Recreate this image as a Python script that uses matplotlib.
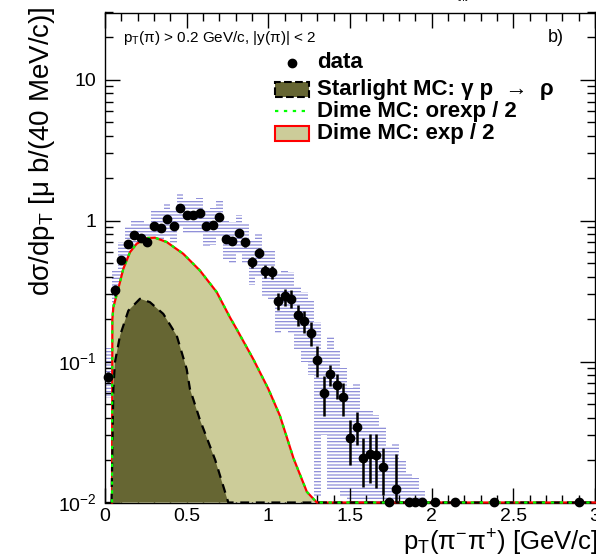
import numpy as np
import matplotlib
matplotlib.use('Agg')
import matplotlib.pyplot as plt
from matplotlib.patches import Rectangle
from matplotlib.lines import Line2D
from matplotlib.ticker import FixedLocator, MultipleLocator, NullFormatter, FixedFormatter

plt.rcParams['font.family'] = ['Liberation Sans', 'DejaVu Sans']
plt.rcParams['mathtext.fontset'] = 'custom'
plt.rcParams['mathtext.rm'] = 'Liberation Sans'
plt.rcParams['mathtext.it'] = 'Liberation Sans:italic'
plt.rcParams['mathtext.bf'] = 'Liberation Sans:bold'
plt.rcParams['hatch.linewidth'] = 0.9

# ---------------- data ----------------
bin_centers = [0.02, 0.06, 0.10, 0.14, 0.18, 0.22, 0.26, 0.30, 0.34, 0.38,
               0.42, 0.46, 0.50, 0.54, 0.58, 0.62, 0.66, 0.70, 0.74, 0.78,
               0.82, 0.86, 0.90, 0.94, 0.98, 1.02, 1.06, 1.10, 1.14, 1.18,
               1.22, 1.26, 1.30, 1.34, 1.38, 1.42, 1.46, 1.50, 1.54, 1.58,
               1.62, 1.66, 1.70, 1.74, 1.78, 1.82, 1.86, 1.90, 1.94]
data_vals = [0.078, 0.32, 0.53, 0.685, 0.79, 0.75, 0.71, 0.92, 0.89, 1.02,
             0.92, 1.23, 1.09, 1.10, 1.13, 0.91, 0.93, 1.06, 0.74, 0.72,
             0.82, 0.70, 0.51, 0.59, 0.44, 0.43, 0.27, 0.29, 0.28, 0.215,
             0.195, 0.16, 0.103, 0.060, 0.081, 0.068, 0.056, 0.0285, 0.0346, 0.0208,
             0.0222, 0.0217, 0.0178, 0.0, 0.0125, np.nan, 0.0, 0.0, 0.0]
stat_err = [0.006, 0.03, 0.03, 0.03, 0.03, 0.03, 0.03, 0.035, 0.035, 0.04,
            0.04, 0.05, 0.045, 0.045, 0.05, 0.045, 0.045, 0.05, 0.04, 0.045,
            0.05, 0.05, 0.045, 0.05, 0.045, 0.045, 0.037, 0.04, 0.04, 0.037,
            0.035, 0.032, 0.025, 0.019, 0.014, 0.014, 0.015, 0.010, 0.009, 0.008,
            0.0085, 0.009, 0.0065, 0.0, 0.0095, 0.0, 0.0, 0.0, 0.0]
sys_lo = [0.055, 0.20, 0.37, 0.50, 0.58, 0.55, 0.53, 0.68, 0.66, 0.76,
          0.68, 0.92, 0.80, 0.80, 0.82, 0.66, 0.67, 0.77, 0.53, 0.50,
          0.58, 0.50, 0.35, 0.40, 0.29, 0.28, 0.16, 0.17, 0.16, 0.12,
          0.10, 0.08, 0.011, 0.03, 0.012, 0.012, 0.011, 0.0101, 0.0101, 0.0101,
          0.0101, 0.0101, 0.0101, 0.0101, 0.0101, 0.0101, 0.0101, 0.0101, 0.0101]
sys_hi = [0.125, 0.45, 0.70, 0.90, 1.02, 1.00, 0.97, 1.20, 1.17, 1.33,
          1.20, 1.55, 1.42, 1.42, 1.45, 1.20, 1.22, 1.38, 1.00, 0.98,
          1.10, 0.96, 0.72, 0.82, 0.63, 0.63, 0.42, 0.44, 0.43, 0.34,
          0.31, 0.27, 0.19, 0.12, 0.15, 0.12, 0.09, 0.065, 0.07, 0.045,
          0.045, 0.042, 0.035, 0.025, 0.026, 0.02, 0.016, 0.015, 0.0125]
extra_pt = [2.02, 2.14, 2.38, 2.90]
extra_vals = [0.0, 0.0, 0.0, 0.0]

dime_pt = [0.043, 0.045, 0.051, 0.081, 0.112, 0.153, 0.194, 0.255, 0.306, 0.378,
           0.479, 0.581, 0.684, 0.765, 0.806, 0.908, 1.0, 1.071, 1.154, 1.236,
           1.297, 3.0]
dime_vals = [0.01, 0.20, 0.243, 0.328, 0.455, 0.598, 0.686, 0.753, 0.757, 0.705,
             0.582, 0.443, 0.311, 0.206, 0.170, 0.104, 0.064, 0.0413, 0.0206, 0.0119,
             0.01, 0.01]
star_pt = [0.04, 0.051, 0.061, 0.092, 0.143, 0.214, 0.275, 0.357, 0.439, 0.50,
           0.52, 0.58, 0.675, 0.755, 3.0]
star_vals = [0.01, 0.064, 0.099, 0.153, 0.23, 0.279, 0.264, 0.218, 0.153, 0.0885,
             0.064, 0.039, 0.02, 0.01, 0.01]

legend_labels = ['data', 'Starlight MC: \u03b3 p  \u2192  \u03c1',
                 'Dime MC: orexp / 2', 'Dime MC: exp / 2']
ytick_vals = [0.01, 0.1, 1, 10]
ytick_labels = ['$10^{-2}$', '$10^{-1}$', '1', '10']

YMIN, YMAX = 0.01, 30.0
XMIN, XMAX = 0.0, 3.0

# ---------------- figure ----------------
W, H = 596, 559
fig = plt.figure(figsize=(W / 100, H / 100), dpi=100)
ax = fig.add_axes([105 / W, 1 - 502.5 / H, 490 / W, 490 / H])
ax.set_yscale('log')
ax.set_xlim(XMIN, XMAX)
ax.set_ylim(YMIN, YMAX)

# systematic band (hatched)
bc = np.array(bin_centers)
lo = np.array(sys_lo)
hi = np.array(sys_hi)
ax.bar(bc, hi - lo, bottom=lo, width=0.04, align='center',
       facecolor='none', edgecolor='#8c8cd8', linewidth=0, hatch='-----', zorder=1)

# Dime exp / 2 (filled)
ax.fill_between(dime_pt, YMIN, dime_vals, facecolor='#cccc99', edgecolor='none', zorder=2)
ax.plot(dime_pt, dime_vals, color='#ff0000', lw=1.6, zorder=3, clip_on=False)

# Starlight (filled, dashed outline)
ax.fill_between(star_pt, YMIN, star_vals, facecolor='#666633', edgecolor='none', zorder=4)
ax.plot(star_pt, star_vals, color='black', lw=1.6, ls=(0, (4, 3)), zorder=5, clip_on=False)

# Dime orexp / 2 (green dotted)
ax.plot(dime_pt, dime_vals, color='#00ff00', lw=1.6, ls=(0, (1.5, 2.5)), zorder=6, clip_on=False)

# data points
dv = np.array(data_vals, dtype=float)
se = np.array(stat_err)
mask = ~np.isnan(dv)
ydraw = np.maximum(dv[mask], YMIN)
ylow = np.minimum(se[mask], ydraw - YMIN)
yerr = np.vstack([ylow, se[mask]])
ax.errorbar(bc[mask], ydraw, yerr=yerr, fmt='o', color='black', markersize=6,
            elinewidth=1.8, capsize=0, zorder=8, clip_on=False)
ax.plot(extra_pt, np.maximum(extra_vals, YMIN), 'o', color='black', markersize=6,
        zorder=8, clip_on=False)

# ticks (ROOT style)
ax.xaxis.set_major_locator(MultipleLocator(0.5))
ax.xaxis.set_minor_locator(MultipleLocator(0.1))
ax.xaxis.set_major_formatter(matplotlib.ticker.FuncFormatter(lambda v, p: '%g' % v))
ax.yaxis.set_major_locator(FixedLocator(ytick_vals))
ax.yaxis.set_major_formatter(FixedFormatter(ytick_labels))
ax.yaxis.set_minor_locator(matplotlib.ticker.LogLocator(base=10, subs=np.arange(2, 10)))
ax.yaxis.set_minor_formatter(NullFormatter())
ax.tick_params(which='both', direction='in', top=True, right=True, width=1, color='black')
ax.tick_params(which='major', length=11)
ax.tick_params(which='minor', length=5.5)
ax.tick_params(axis='x', which='major', labelsize=14, pad=4)
ax.tick_params(axis='y', which='major', labelsize=14, pad=6)
for s in ax.spines.values():
    s.set_linewidth(1.0)

# texts
fig.text(123 / W, 1 - 38 / H, 'p$_\\mathrm{T}$(\u03c0) > 0.2 GeV/c, |y(\u03c0)| < 2',
         fontsize=11, ha='left', va='center')
fig.text(548 / W, 1 - 37 / H, 'b)', fontsize=13, ha='left', va='center')
fig.text(1.003, 1 - 543 / H, 'p$_\\mathrm{T}$(\u03c0$^{-}$\u03c0$^{+}$) [GeV/c]',
         fontsize=18.5, ha='right', va='center')
fig.text(42 / W, 1 - 6 / H, 'd\u03c3/dp$_\\mathrm{T}$ [\u03bc b/(40 MeV/c)]',
         fontsize=20, ha='center', va='top', rotation=90)
fig.text(462 / W, 1 + 2 / H, 'int', fontsize=7, ha='center', va='center')

# legend drawn manually (ROOT TLegend style)
def fx(px):
    return px / W

def fy(py):
    return 1 - py / H

row_y = [63, 89, 111, 133]
hx0, hx1, hh = 275, 309, 15
tx = 317
fig.add_artist(Line2D([fx((hx0 + hx1) / 2)], [fy(row_y[0])], marker='o', color='black',
                      markersize=6, linestyle='none', transform=fig.transFigure))
fig.add_artist(Rectangle((fx(hx0), fy(row_y[1] + hh / 2)), (hx1 - hx0) / W, hh / H,
                         facecolor='#666633', edgecolor='black', linestyle='--', linewidth=1.5,
                         transform=fig.transFigure))
fig.add_artist(Line2D([fx(hx0), fx(hx1)], [fy(row_y[2]), fy(row_y[2])], color='#00ff00',
                      linestyle=(0, (1.5, 2.5)), lw=1.6, transform=fig.transFigure))
fig.add_artist(Rectangle((fx(hx0), fy(row_y[3] + hh / 2)), (hx1 - hx0) / W, hh / H,
                         facecolor='#cccc99', edgecolor='#ff0000', linewidth=1.5,
                         transform=fig.transFigure))
for lab, ry in zip(legend_labels, row_y):
    fig.text(fx(tx), fy(ry), lab, fontsize=16, fontweight='bold', ha='left', va='center')

fig.savefig('out.png', dpi=100)
